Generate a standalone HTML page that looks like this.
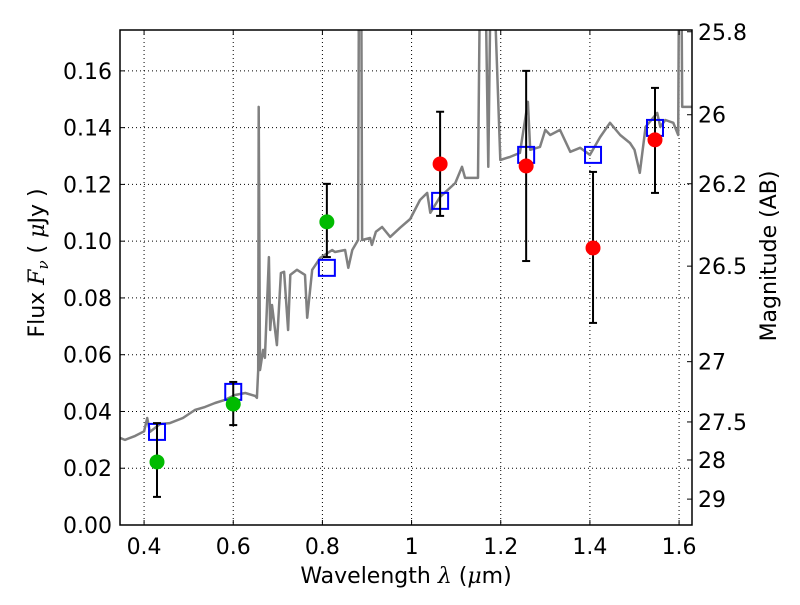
<!DOCTYPE html>
<html><head><meta charset="utf-8">
<style>
body{margin:0;background:#fff;}
svg text{font-family:"DejaVu Sans","Liberation Sans",sans-serif;font-size:22px;fill:#000;}
</style></head>
<body>
<svg id="chart" width="800" height="600" viewBox="0 0 800 600" xmlns="http://www.w3.org/2000/svg">
<rect width="800" height="600" fill="#fff"/>
<g id="grid"></g>
<g id="plot"></g>
<g id="axes"></g>
</svg>
<script>
const specWave=[0.346,0.357,0.380,0.400,0.407,0.413,0.436,0.458,0.487,0.514,0.537,0.559,0.582,0.604,0.627,0.649,0.653,0.656,0.657,0.660,0.667,0.671,0.680,0.683,0.687,0.698,0.707,0.714,0.723,0.728,0.743,0.761,0.766,0.777,0.795,0.822,0.828,0.851,0.858,0.867,0.880,0.882,0.887,0.889,0.907,0.911,0.920,0.934,0.952,0.974,0.997,1.019,1.035,1.042,1.064,1.098,1.113,1.120,1.149,1.154,1.165,1.172,1.178,1.183,1.199,1.221,1.243,1.261,1.266,1.288,1.300,1.311,1.333,1.356,1.378,1.400,1.423,1.445,1.468,1.490,1.500,1.512,1.525,1.551,1.558,1.569,1.587,1.598,1.600,1.605,1.607,1.629];
const specFlux=[0.0307,0.0300,0.0314,0.0330,0.0377,0.0328,0.0356,0.0359,0.0377,0.0405,0.0416,0.0430,0.0441,0.0458,0.0465,0.0455,0.0448,0.0546,0.1473,0.0546,0.0617,0.0589,0.0944,0.0687,0.0775,0.0634,0.0888,0.0892,0.0687,0.0881,0.0899,0.0881,0.0730,0.0899,0.0941,0.0969,0.0962,0.0969,0.0906,0.0969,0.1004,0.2,0.2,0.1004,0.1011,0.0987,0.1033,0.1050,0.1015,0.1047,0.1078,0.1145,0.1170,0.1100,0.1156,0.1205,0.1262,0.1223,0.1223,0.2,0.2,0.1262,0.2,0.2,0.1286,0.1297,0.1311,0.1491,0.1322,0.1332,0.1392,0.1374,0.1392,0.1315,0.1329,0.1304,0.1367,0.1417,0.1374,0.1346,0.1322,0.1241,0.1403,0.1452,0.1403,0.1427,0.1417,0.1374,0.2,0.2,0.1473,0.1473];
const obsWave=[0.429,0.600,0.810,1.064,1.257,1.407,1.546];
const obsFlux=[0.0222,0.0426,0.1068,0.1272,0.1265,0.0976,0.1357];
const obsErrHi=[0.0359,0.0504,0.1202,0.1456,0.1600,0.1244,0.1540];
const obsErrLo=[0.0099,0.0352,0.0944,0.1089,0.0930,0.0712,0.1170];
const obsColor=['#00bb00','#00bb00','#00bb00','#ff0000','#ff0000','#ff0000','#ff0000'];
const modelFlux=[0.0328,0.0469,0.0906,0.1142,0.1304,0.1304,0.1399];
const xTicks=[0.4,0.6,0.8,1.0,1.2,1.4,1.6];
const xTickLabels=['0.4','0.6','0.8','1','1.2','1.4','1.6'];
const yTicks=[0,0.02,0.04,0.06,0.08,0.10,0.12,0.14,0.16];
const yTickLabels=['0.00','0.02','0.04','0.06','0.08','0.10','0.12','0.14','0.16'];
const magTicks=[25.8,26,26.2,26.5,27,27.5,28,29];
const magTickLabels=['25.8','26','26.2','26.5','27','27.5','28','29'];

const L=120,R=692,T=30,B=525,XMIN=0.346,XMAX=1.629,YMIN=0,YMAX=0.1744;
const sx=v=>L+(v-XMIN)/(XMAX-XMIN)*(R-L);
const sy=v=>B-(v-YMIN)/(YMAX-YMIN)*(B-T);
const NS='http://www.w3.org/2000/svg';
function mk(tag,attrs,parent,txt){const e=document.createElementNS(NS,tag);for(const k in attrs)e.setAttribute(k,attrs[k]);if(txt!==undefined)e.textContent=txt;parent.appendChild(e);return e;}
const grid=document.getElementById('grid'),plot=document.getElementById('plot'),axes=document.getElementById('axes');

xTicks.forEach((t,i)=>{
  const x=sx(t);
  const g=mk('line',{x1:x,x2:x,y1:T,y2:B,stroke:'#000','stroke-width':1,'stroke-dasharray':'1,3'},grid);
  
  
  mk('line',{x1:x,x2:x,y1:B,y2:B-5,stroke:'#000'},axes);
  mk('line',{x1:x,x2:x,y1:T,y2:T+5,stroke:'#000'},axes);
  const lb=mk('text',{x:x,y:B+29,'text-anchor':'middle'},axes,xTickLabels[i]);
  
  
});
yTicks.forEach((t,i)=>{
  const y=sy(t);
  if(t>0){const g=mk('line',{x1:L,x2:R,y1:y,y2:y,stroke:'#000','stroke-width':1,'stroke-dasharray':'1,3'},grid);
  
  }
  mk('line',{x1:L,x2:L+5,y1:y,y2:y,stroke:'#000'},axes);
  const lb=mk('text',{x:L-8,y:y+8,'text-anchor':'end'},axes,yTickLabels[i]);
  
  
});
magTicks.forEach((m,i)=>{
  const y=sy(Math.pow(10,(23.9-m)/2.5));
  mk('line',{x1:R,x2:R-5,y1:y,y2:y,stroke:'#000'},axes);
  const lb=mk('text',{x:R+6,y:y+8,'text-anchor':'start'},axes,magTickLabels[i]);
  
  
});

const cp=mk('clipPath',{id:'cp'},plot);mk('rect',{x:L,y:T,width:R-L,height:B-T},cp);
const d=specWave.map((w,i)=>(i?'L':'M')+sx(w).toFixed(1)+','+sy(specFlux[i]).toFixed(1)).join('');
const sp=mk('path',{d:d,fill:'none',stroke:'#808080','stroke-width':2.5,'stroke-linejoin':'round','clip-path':'url(#cp)'},plot);



obsWave.forEach((w,i)=>{
  const x=sx(w);
  const sq=mk('rect',{x:x-8,y:sy(modelFlux[i])-8,width:16,height:16,fill:'none',stroke:'#0000ff','stroke-width':2},plot);
  
  
  const eb=mk('g',{},plot);
  
  
  mk('line',{x1:x,x2:x,y1:sy(obsErrHi[i]),y2:sy(obsErrLo[i]),stroke:'#000','stroke-width':2},eb);
  mk('line',{x1:x-4,x2:x+4,y1:sy(obsErrHi[i]),y2:sy(obsErrHi[i]),stroke:'#000','stroke-width':2},eb);
  mk('line',{x1:x-4,x2:x+4,y1:sy(obsErrLo[i]),y2:sy(obsErrLo[i]),stroke:'#000','stroke-width':2},eb);
  const c=mk('circle',{cx:x,cy:sy(obsFlux[i]),r:7.5,fill:obsColor[i]},plot);
  
  
});

const fr=mk('rect',{x:L,y:T,width:R-L,height:B-T,fill:'none',stroke:'#000','stroke-width':1.5},axes);



const xt=mk('text',{x:406,y:583,'text-anchor':'middle'},axes);
xt.innerHTML='Wavelength  <tspan font-style="italic" font-family="DejaVu Serif, serif">λ</tspan> (<tspan font-style="italic" font-family="DejaVu Serif, serif">μ</tspan>m)';


const yt=mk('text',{x:0,y:0,'text-anchor':'middle',transform:'translate(44,263) rotate(-90)'},axes);
yt.innerHTML='Flux  <tspan font-style="italic" font-family="DejaVu Serif, serif">F</tspan><tspan font-style="italic" font-family="DejaVu Serif, serif" font-size="15" dy="4">ν</tspan><tspan dy="-4">  ( </tspan><tspan font-style="italic" font-family="DejaVu Serif, serif">μ</tspan>Jy )';


const rt=mk('text',{x:0,y:0,'text-anchor':'middle',transform:'translate(776,256) rotate(-90)'},axes,'Magnitude (AB)');


</script>
</body></html>
